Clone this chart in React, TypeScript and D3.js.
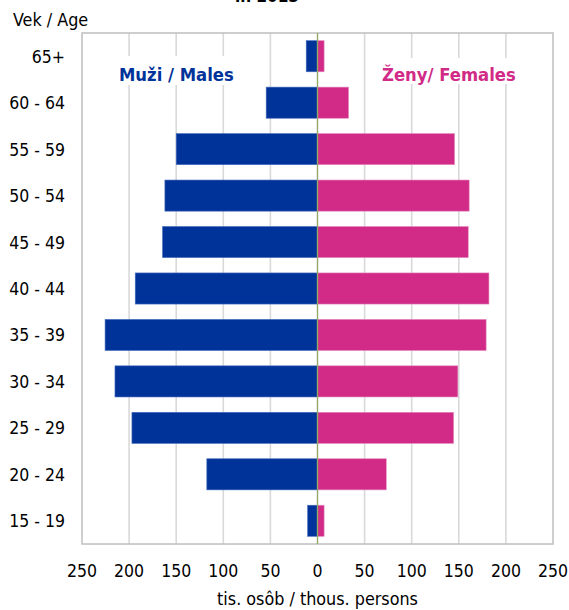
import React, { useEffect } from "react";
import * as d3 from "d3";

const ageGroups = ["65+", "60 - 64", "55 - 59", "50 - 54", "45 - 49", "40 - 44", "35 - 39", "30 - 34", "25 - 29", "20 - 24", "15 - 19"];
const males = [12, 54.5, 150, 162, 164.5, 193.5, 225.5, 215, 197, 117.5, 10.5];
const females = [7, 33, 145.5, 161, 160, 182, 179, 149, 144.5, 73, 7];
const tickValues = [-250, -200, -150, -100, -50, 0, 50, 100, 150, 200, 250];

const FONT = "'DejaVu Sans Condensed', 'DejaVu Sans', sans-serif";
const BLUE = "#003399";
const PINK = "#D12A87";

export default function App() {
  useEffect(() => {
    document.body.style.margin = "0";
  }, []);

  const W = 569;
  const H = 610;
  const left = 82, right = 553, top = 33, bottom = 544;

  const x = d3.scaleLinear().domain([-250, 250]).range([left, right]);
  const y = d3.scaleBand<string>().domain(ageGroups).range([top, bottom]).paddingInner(0.33).paddingOuter(0.165);

  return (
    <svg width={W} height={H} style={{ display: "block", fontFamily: FONT, fontStretch: "condensed" }}>
      <rect x={0} y={0} width={W} height={H} fill="#fff" />
      <text x={267} y={2} textAnchor="middle" fontSize={17} fontWeight="bold" fill="#000">in 2013</text>
      <text x={13} y={26} fontSize={17.8} fill="#000">Vek / Age</text>

      {/* gridlines */}
      {tickValues.filter((t) => t !== 0 && Math.abs(t) !== 250).map((t) => (
        <line key={"g" + t} x1={x(t)} x2={x(t)} y1={top} y2={bottom} stroke="#D9D9D9" strokeWidth={1.6} />
      ))}
      {/* label backgrounds */}
      <rect x={100} y={56} width={150} height={29} fill="#fff" />
      <rect x={366} y={58} width={180} height={26} fill="#fff" />

      {/* plot border */}
      <rect x={left} y={top} width={right - left} height={bottom - top} fill="none" stroke="#BFBFBF" strokeWidth={1.5} />

      {/* bars */}
      {ageGroups.map((a, i) => (
        <g key={a}>
          <rect x={x(-males[i])} y={y(a)} width={x(0) - x(-males[i])} height={y.bandwidth()} fill={BLUE} stroke="#4a6fbf" strokeWidth={0.6} />
          <rect x={x(0)} y={y(a)} width={x(females[i]) - x(0)} height={y.bandwidth()} fill={PINK} stroke="#e58abd" strokeWidth={0.6} />
        </g>
      ))}

      {/* zero line */}
      <line x1={x(0)} x2={x(0)} y1={top} y2={bottom} stroke="#94A86A" strokeWidth={1.4} />

      {/* category labels */}
      {ageGroups.map((a) => (
        <text key={"l" + a} x={65} y={(y(a) as number) + y.bandwidth() / 2 + 6.5} textAnchor="end" fontSize={17.5} fill="#000">{a}</text>
      ))}

      {/* tick labels */}
      {tickValues.map((t) => (
        <text key={"t" + t} x={x(t)} y={577} textAnchor="middle" fontSize={17.5} fill="#000">{Math.abs(t)}</text>
      ))}
      <text x={x(0)} y={605} textAnchor="middle" fontSize={17.8} fill="#000">tis. osôb / thous. persons</text>

      {/* series labels */}
      <text x={119} y={80.5} fontSize={18.3} fontWeight="bold" fill={BLUE}>Muži / Males</text>
      <text x={382} y={80.5} fontSize={18.3} fontWeight="bold" fill={PINK}>Ženy/ Females</text>
    </svg>
  );
}
